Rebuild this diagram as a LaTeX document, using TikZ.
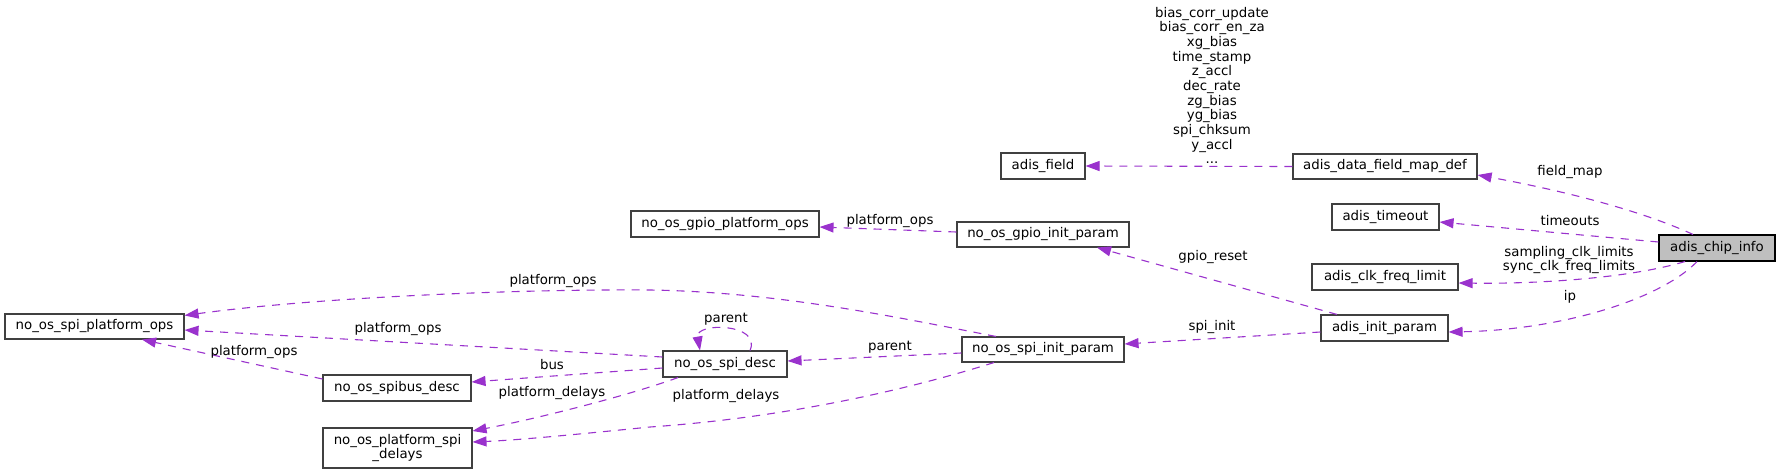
\documentclass[tikz,border=0pt]{standalone}
\usepackage{fontspec}
\setmainfont{DejaVu Sans}
\usetikzlibrary{arrows.meta}
\definecolor{edgecol}{RGB}{154,50,205}
\newcommand\dgfont{\fontsize{13.33}{14.67}\selectfont}
\begin{document}
\begin{tikzpicture}[x=1pt,y=-1pt,
  box/.style={draw=black!75, line width=1.1pt, fill=white, inner sep=0pt,
    minimum height=26pt, font=\dgfont, align=center},
  mainbox/.style={box, draw=black, fill=black!25},
  lbl/.style={font=\dgfont, inner sep=0pt, align=center},
  edge/.style={draw=edgecol, line width=1.1pt, dash pattern=on 8pt off 7pt,
    -{Triangle[length=14pt,width=10pt,fill=edgecol]}}]
\useasboundingbox (0,0) rectangle (1780,474);
% nodes
\node[box, minimum width=179pt, minimum height=25pt] (spo) at (94.5,326.5) {no\_os\_spi\_platform\_ops};
\node[box, minimum width=148pt] (sbd) at (397,388) {no\_os\_spibus\_desc};
\node[box, minimum width=149pt, minimum height=40pt] (psd) at (397.5,448) {no\_os\_platform\_spi\\\_delays};
\node[box, minimum width=124pt] (sd) at (725,364) {no\_os\_spi\_desc};
\node[box, minimum width=162pt, minimum height=25pt] (sip) at (1043,349.5) {no\_os\_spi\_init\_param};
\node[box, minimum width=188pt] (gpo) at (725,224) {no\_os\_gpio\_platform\_ops};
\node[box, minimum width=172pt, minimum height=25pt] (gip) at (1043,234.5) {no\_os\_gpio\_init\_param};
\node[box, minimum width=84pt] (af) at (1043,166) {adis\_field};
\node[box, minimum width=184pt, minimum height=25pt] (dfm) at (1385,166.5) {adis\_data\_field\_map\_def};
\node[box, minimum width=107pt] (ato) at (1385.5,217) {adis\_timeout};
\node[mainbox, minimum width=116pt] (aci) at (1717,248) {adis\_chip\_info};
\node[box, minimum width=146pt] (acf) at (1385,277) {adis\_clk\_freq\_limit};
\node[box, minimum width=127pt] (aip) at (1384.5,328) {adis\_init\_param};
% edges
\draw[edge] ([xshift=-24pt]aci.north) .. controls (1640,210) and (1560,190) .. ([yshift=-8.5pt]dfm.east);
\draw[edge] ([yshift=6pt]aci.west) -- ([yshift=-5pt]ato.east);
\draw[edge] ([xshift=-32pt]aci.south) .. controls (1630,278) and (1540,284) .. ([yshift=-6pt]acf.east);
\draw[edge] ([xshift=-20pt]aci.south) .. controls (1660,300) and (1560,330) .. ([yshift=-4pt]aip.east);
\draw[edge] (dfm.west) -- (af.east);
\draw[edge] ([xshift=-47.5pt]aip.north) -- ([xshift=54pt]gip.south);
\draw[edge] ([yshift=-4pt]aip.west) -- ([yshift=5.5pt]sip.east);
\draw[edge] ([yshift=2.5pt]gip.west) -- ([yshift=-3pt]gpo.east);
\draw[edge] ([xshift=-47pt]sip.north) .. controls (900,318) and (780,292) .. (650,290) .. controls (520,289) and (320,297) .. ([yshift=-2pt]spo.north east);
\draw[edge] ([yshift=-3.5pt]sip.west) -- ([yshift=3pt]sd.east);
\draw[edge] ([xshift=-49pt]sip.south) .. controls (900,392) and (780,418) .. (650,427) .. controls (580,434) and (520,440) .. ([yshift=6pt]psd.east);
\draw[edge] ([xshift=25pt]sd.north) .. controls (762,323) and (695,322) .. ([xshift=-25pt]sd.north);
\draw[edge] ([yshift=7pt]sd.west) -- ([yshift=-3.5pt]spo.east);
\draw[edge] ([yshift=-4pt]sd.west) -- ([yshift=6pt]sbd.east);
\draw[edge] ([xshift=-47pt]sd.south) .. controls (630,395) and (540,418) .. ([yshift=17pt]psd.east);
\draw[edge] ([yshift=9pt]sbd.west) -- ([xshift=47.5pt]spo.south);
% labels
\node[lbl] (l1) at (1570,172) {field\_map};
\node[lbl] (l2) at (1570,221) {timeouts};
\node[lbl] (l3) at (1569,260) {sampling\_clk\_limits\\sync\_clk\_freq\_limits};
\node[lbl] (l4) at (1570,297) {ip};
\node[lbl] (l5) at (1212,85.3) {bias\_corr\_update\\bias\_corr\_en\_za\\xg\_bias\\time\_stamp\\z\_accl\\dec\_rate\\zg\_bias\\yg\_bias\\spi\_chksum\\y\_accl\\...};
\node[lbl] (l6) at (1213,257) {gpio\_reset};
\node[lbl] (l7) at (1212,327) {spi\_init};
\node[lbl] (l8) at (890,221) {platform\_ops};
\node[lbl] (l9) at (553,281) {platform\_ops};
\node[lbl] (l10) at (890,347) {parent};
\node[lbl] (l11) at (726,396) {platform\_delays};
\node[lbl] (l12) at (726,319) {parent};
\node[lbl] (l13) at (398,329) {platform\_ops};
\node[lbl] (l14) at (552,365) {bus};
\node[lbl] (l15) at (552,393) {platform\_delays};
\node[lbl] (l16) at (254,352) {platform\_ops};
\end{tikzpicture}
\end{document}
